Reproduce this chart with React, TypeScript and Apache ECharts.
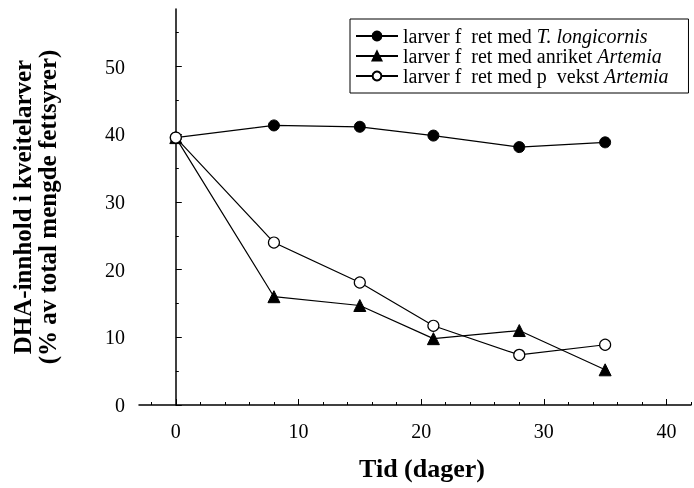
import React, { useEffect, useRef } from "react";
import * as echarts from "echarts";

const days = [0, 8, 15, 21, 28, 35];
const longicornis = [39.5, 41.3, 41.1, 39.8, 38.1, 38.8];
const anriket = [39.5, 16.0, 14.7, 9.8, 11.0, 5.2];
const pavekst = [39.5, 24.0, 18.1, 11.7, 7.4, 8.9];

const xMajor = [0, 10, 20, 30, 40];
const xMinor = [-2, 2, 4, 6, 8, 12, 14, 16, 18, 22, 24, 26, 28, 32, 34, 36, 38, 42];
const yMajor = [0, 10, 20, 30, 40, 50];
const yMinor = [5, 15, 25, 35, 45, 55];

const seriesNames = [
  "larver f  ret med T. longicornis",
  "larver f  ret med anriket Artemia",
  "larver f  ret med p  vekst Artemia",
];

export default function App() {
  const ref = useRef<HTMLDivElement>(null);
  useEffect(() => {
    const chart = echarts.init(ref.current!, null, { renderer: "svg" });
    const pair = (ys: number[]) => days.map((d, i) => [d, ys[i]]);
    const lineStyle = { color: "#000", width: 1.2 };
    const tickAxisX = (values: number[], len: number) => ({
      type: "value",
      min: -3,
      max: 42,
      position: "bottom",
      axisLine: { show: false },
      axisTick: { show: true, inside: true, length: len, customValues: values, lineStyle: { color: "#000", width: 1 } },
      axisLabel: { show: false },
      splitLine: { show: false },
    });
    const tickAxisY = (values: number[], len: number) => ({
      type: "value",
      min: 0,
      max: 58.5,
      position: "left",
      axisLine: { show: false },
      axisTick: { show: true, inside: true, length: len, customValues: values, lineStyle: { color: "#000", width: 1 } },
      axisLabel: { show: false },
      splitLine: { show: false },
    });
    chart.setOption({
      animation: false,
      grid: { left: 139, top: 9, width: 555, height: 396 },
      legend: {
        orient: "vertical",
        left: 350,
        top: 19,
        backgroundColor: "#fff",
        borderColor: "#000",
        borderWidth: 1,
        padding: [7, 20, 7, 5],
        itemWidth: 42,
        itemHeight: 11,
        itemGap: 0,
        data: seriesNames,
        formatter: (name: string) => {
          const idx = seriesNames.indexOf(name);
          if (idx === 0) return "{n|larver f  ret med }{i|T. longicornis}";
          if (idx === 1) return "{n|larver f  ret med anriket }{i|Artemia}";
          return "{n|larver f  ret med p  vekst }{i|Artemia}";
        },
        textStyle: {
          fontFamily: "Liberation Serif",
          fontSize: 20,
          color: "#000",
          lineHeight: 18,
          rich: {
            n: { fontFamily: "Liberation Serif", fontSize: 20, color: "#000", lineHeight: 18 },
            i: { fontFamily: "Liberation Serif", fontSize: 20, fontStyle: "italic", color: "#000", lineHeight: 18 },
          },
        },
      },
      xAxis: [
        {
          type: "value",
          min: -3,
          max: 42,
          interval: 1,
          name: "Tid (dager)",
          nameLocation: "middle",
          nameGap: 50,
          nameTextStyle: { fontFamily: "Liberation Serif", fontSize: 26, fontWeight: "bold", color: "#000", padding: [0, 0, 0, 14] },
          axisLine: { show: true, lineStyle: { color: "#000", width: 1.5 } },
          axisTick: { show: false },
          axisLabel: {
            show: true,
            margin: 16,
            fontFamily: "Liberation Serif",
            fontSize: 20,
            color: "#000",
            formatter: (v: number) => (Math.abs(v % 10) < 1e-6 && v >= 0 ? String(Math.round(v)) : ""),
          },
          splitLine: { show: false },
        },
        tickAxisX(xMajor, 6),
        tickAxisX(xMinor, 3),
      ],
      yAxis: [
        {
          type: "value",
          min: 0,
          max: 58.5,
          interval: 10,
          name: "DHA-innhold i kveitelarver\n(% av total mengde fettsyrer)",
          nameLocation: "middle",
          nameRotate: 90,
          nameGap: 79,
          nameTextStyle: { fontFamily: "Liberation Serif", fontSize: 25, fontWeight: "bold", color: "#000", lineHeight: 25 },
          axisLine: { show: true, lineStyle: { color: "#000", width: 1.5 } },
          axisTick: { show: false },
          axisLabel: { show: true, showMaxLabel: false, margin: 14, fontFamily: "Liberation Serif", fontSize: 20, color: "#000" },
          splitLine: { show: false },
        },
        tickAxisY(yMajor, 6),
        tickAxisY(yMinor, 3),
      ],
      series: [
        {
          name: seriesNames[0],
          type: "line",
          data: pair(longicornis),
          symbol: "circle",
          symbolSize: 11,
          itemStyle: { color: "#000", borderColor: "#000", borderWidth: 1 },
          lineStyle,
        },
        {
          name: seriesNames[1],
          type: "line",
          data: pair(anriket),
          symbol: "triangle",
          symbolSize: 12,
          itemStyle: { color: "#000", borderColor: "#000", borderWidth: 1 },
          lineStyle,
        },
        {
          name: seriesNames[2],
          type: "line",
          data: pair(pavekst),
          symbol: "circle",
          symbolSize: 11,
          itemStyle: { color: "#fff", borderColor: "#000", borderWidth: 1.2 },
          lineStyle,
        },
      ],
    });
    return () => chart.dispose();
  }, []);
  return (
    <div
      ref={ref}
      style={{ position: "fixed", left: 0, top: 0, width: 694, height: 488 }}
    />
  );
}
